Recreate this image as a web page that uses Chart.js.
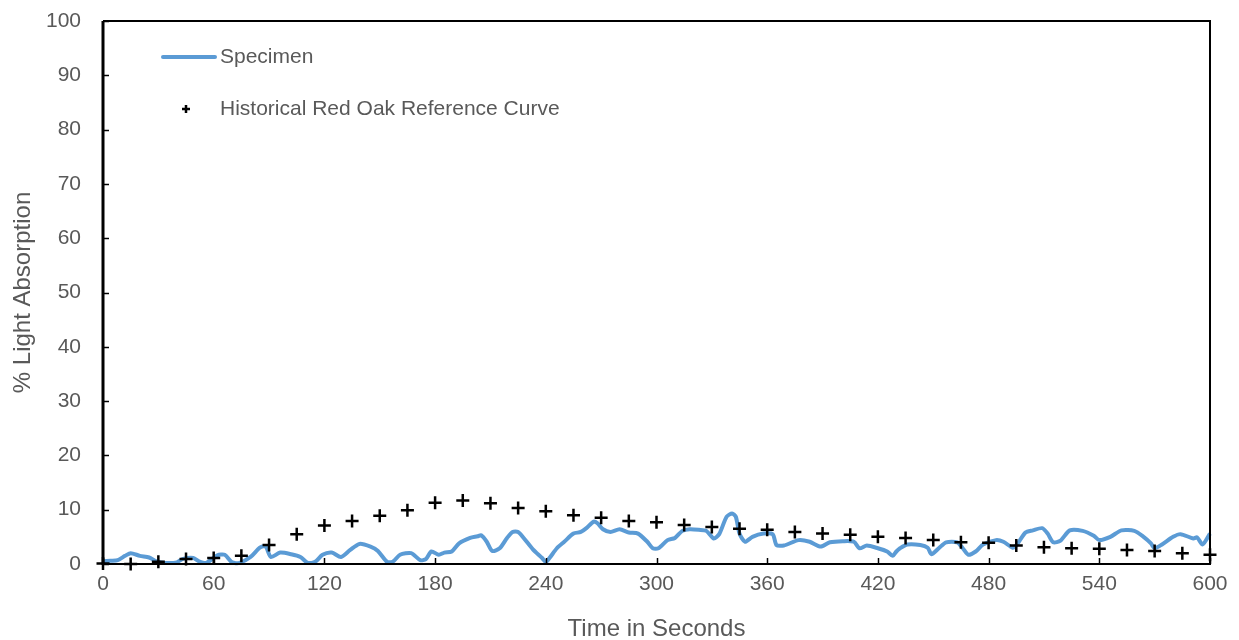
<!DOCTYPE html>
<html>
<head>
<meta charset="utf-8">
<script src="https://cdn.jsdelivr.net/npm/chart.js@4/dist/chart.umd.min.js"></script>
<style>
    html, body { margin: 0; padding: 0; background: #ffffff; }
    #wrap { width: 1239px; height: 640px; }
</style>
</head>
<body>
<div id="wrap"><canvas id="lightChart" width="1239" height="640"></canvas></div>
<script>
// Specimen trace (seconds, % light absorption)
const specimenTime = [0, 4, 8, 12, 15, 20, 25, 29, 34, 40, 43, 49, 52, 56, 62, 66, 70, 74, 80, 85,
    88, 91, 96, 102, 107, 111, 115, 119, 124, 129, 134, 139, 145, 149, 154, 157, 161, 167, 172, 175,
    178, 182, 185, 189, 193, 199, 203, 205, 208, 211, 215, 219, 222, 225, 228, 233, 238, 240, 242, 246,
    250, 255, 259, 262, 266, 268, 271, 275, 280, 285, 290, 295, 298, 301, 306, 310, 314, 318, 323, 327,
    331, 334, 338, 341, 343, 345, 348, 352, 358, 363, 365, 369, 377, 383, 389, 394, 401, 407, 410, 414,
    420, 425, 428, 430, 432, 436, 443, 447, 449, 453, 457, 463, 466, 469, 473, 477, 484, 488, 493, 495,
    500, 504, 509, 512, 515, 519, 524, 531, 537, 540, 546, 552, 559, 564, 568, 570, 574, 580, 584, 591,
    593, 596, 600];
const specimenValue = [0.5, 0.6, 0.7, 1.5, 2.0, 1.5, 1.2, 0.5, 0.2, 0.3, 0.9, 1.1, 0.5, 0.2, 1.6, 1.7, 0.3, 0.2, 1.3, 3.0,
    3.3, 1.3, 2.1, 1.8, 1.3, 0.2, 0.4, 1.7, 2.1, 1.3, 2.6, 3.7, 3.2, 2.4, 0.4, 0.4, 1.7, 2.0, 0.7, 0.9,
    2.3, 1.7, 2.1, 2.3, 3.8, 4.8, 5.1, 5.3, 4.1, 2.4, 2.9, 4.8, 5.9, 5.9, 4.8, 2.7, 1.1, 0.4, 1.1, 2.9,
    4.1, 5.6, 5.9, 6.6, 7.8, 7.5, 6.4, 5.9, 6.4, 5.8, 5.6, 4.1, 2.9, 2.9, 4.4, 4.8, 6.1, 6.4, 6.3, 6.1,
    4.7, 5.5, 8.7, 9.3, 8.7, 5.6, 4.1, 5.0, 5.6, 5.5, 3.5, 3.4, 4.4, 4.1, 3.2, 4.0, 4.2, 4.1, 2.9, 3.4,
    2.9, 2.3, 1.5, 2.3, 2.9, 3.6, 3.5, 3.0, 1.8, 2.9, 4.0, 4.0, 2.9, 1.7, 2.3, 3.6, 4.4, 4.1, 3.0, 3.4,
    5.8, 6.2, 6.6, 5.6, 4.0, 4.3, 6.2, 6.1, 5.2, 4.4, 5.0, 6.2, 6.1, 5.0, 3.8, 2.9, 3.6, 5.0, 5.5, 4.7,
    4.9, 3.6, 5.6];

// Historical red oak reference, one marker every 15 s
const refTime = [0, 15, 30, 45, 60, 75, 90, 105, 120, 135, 150, 165, 180, 195, 210, 225, 240, 255, 270, 285,
    300, 315, 330, 345, 360, 375, 390, 405, 420, 435, 450, 465, 480, 495, 510, 525, 540, 555, 570, 585, 600];
const refValue = [0.1, 0.0, 0.4, 0.9, 1.1, 1.5, 3.5, 5.5, 7.1, 7.9, 8.9, 9.9, 11.3, 11.7, 11.2, 10.3, 9.7, 9.0, 8.5, 7.9,
    7.7, 7.2, 6.8, 6.5, 6.3, 5.9, 5.6, 5.4, 5.0, 4.8, 4.4, 4.0, 3.9, 3.4, 3.1, 2.9, 2.8, 2.6, 2.4, 2.0, 1.7];

const seriesNames = ['Specimen', 'Historical Red Oak Reference Curve'];
const xTitle = 'Time in Seconds';
const yTitle = '% Light Absorption';

const textColor = '#595959';
const fontFamily = "'Liberation Sans', Arial, sans-serif";

// Frame, inward tick marks and the in-plot legend
const excelFrame = {
    id: 'excelFrame',
    afterDraw: function(chart) {
        const ctx = chart.ctx;
        const area = chart.chartArea;
        const xs = chart.scales.x;
        const ys = chart.scales.y;
        ctx.save();
        ctx.strokeStyle = '#000000';

        // ticks pointing into the plot
        ctx.lineWidth = 1.5;
        ys.ticks.forEach(t => {
            const py = Math.round(ys.getPixelForValue(t.value)) + 0.5;
            ctx.beginPath();
            ctx.moveTo(area.left, py);
            ctx.lineTo(area.left + 6, py);
            ctx.stroke();
        });
        xs.ticks.forEach(t => {
            const px = Math.round(xs.getPixelForValue(t.value)) + 0.5;
            ctx.beginPath();
            ctx.moveTo(px, area.bottom);
            ctx.lineTo(px, area.bottom - 6);
            ctx.stroke();
        });

        // box round the plot
        ctx.lineWidth = 2;
        ctx.beginPath();
        ctx.moveTo(area.left, area.top);
        ctx.lineTo(area.right, area.top);
        ctx.lineTo(area.right, area.bottom);
        ctx.lineTo(area.left, area.bottom);
        ctx.stroke();
        ctx.lineWidth = 3;
        ctx.beginPath();
        ctx.moveTo(area.left, area.top);
        ctx.lineTo(area.left, area.bottom + 1);
        ctx.stroke();

        // legend
        ctx.font = '21px ' + fontFamily;
        ctx.fillStyle = textColor;
        ctx.textBaseline = 'middle';
        ctx.textAlign = 'left';
        ctx.strokeStyle = '#5B9BD5';
        ctx.lineWidth = 4;
        ctx.lineCap = 'round';
        ctx.beginPath();
        ctx.moveTo(area.left + 60, 57);
        ctx.lineTo(area.left + 112, 57);
        ctx.stroke();
        ctx.fillText(seriesNames[0], area.left + 117, 57);

        ctx.strokeStyle = '#000000';
        ctx.lineWidth = 2.5;
        ctx.lineCap = 'butt';
        ctx.beginPath();
        ctx.moveTo(area.left + 79, 109);
        ctx.lineTo(area.left + 87, 109);
        ctx.moveTo(area.left + 83, 105);
        ctx.lineTo(area.left + 83, 113);
        ctx.stroke();
        ctx.fillText(seriesNames[1], area.left + 117, 109);
        ctx.restore();
    }
};

const specimenPoints = specimenTime.map((t, i) => ({ x: t, y: specimenValue[i] }));
const refPoints = refTime.map((t, i) => ({ x: t, y: refValue[i] }));

new Chart(document.getElementById('lightChart'), {
    type: 'scatter',
    data: {
        datasets: [
            {
                label: seriesNames[0],
                data: specimenPoints,
                showLine: true,
                borderColor: '#5B9BD5',
                borderWidth: 4,
                pointRadius: 0,
                tension: 0.25,
                order: 2
            },
            {
                label: seriesNames[1],
                data: refPoints,
                showLine: false,
                pointStyle: 'cross',
                pointRadius: 6.5,
                borderColor: '#000000',
                backgroundColor: '#000000',
                borderWidth: 2.5,
                order: 1
            }
        ]
    },
    plugins: [excelFrame],
    options: {
        responsive: false,
        animation: false,
        clip: false,
        layout: { padding: { top: 21, right: 29, left: 0, bottom: 0 } },
        scales: {
            x: {
                type: 'linear',
                min: 0,
                max: 600,
                afterFit: scale => {
                    scale.height = 76;
                    scale.paddingLeft = 0;
                    scale.paddingRight = 0;
                },
                grid: { display: false, drawTicks: false },
                border: { display: false },
                ticks: {
                    stepSize: 60,
                    padding: 8,
                    color: textColor,
                    font: { family: fontFamily, size: 21 }
                },
                title: {
                    display: true,
                    text: xTitle,
                    color: textColor,
                    font: { family: fontFamily, size: 24 },
                    padding: { top: 0, bottom: -4 }
                }
            },
            y: {
                min: 0,
                max: 100,
                afterFit: scale => {
                    scale.width = 103;
                    scale.paddingTop = 0;
                    scale.paddingBottom = 0;
                },
                grid: { display: false, drawTicks: false },
                border: { display: false },
                ticks: {
                    stepSize: 10,
                    padding: 22,
                    color: textColor,
                    font: { family: fontFamily, size: 21 }
                },
                title: {
                    display: true,
                    text: yTitle,
                    color: textColor,
                    font: { family: fontFamily, size: 24 },
                    padding: { top: 9, bottom: 0 }
                }
            }
        },
        plugins: {
            legend: { display: false },
            tooltip: { enabled: false }
        }
    }
});
</script>
</body>
</html>
